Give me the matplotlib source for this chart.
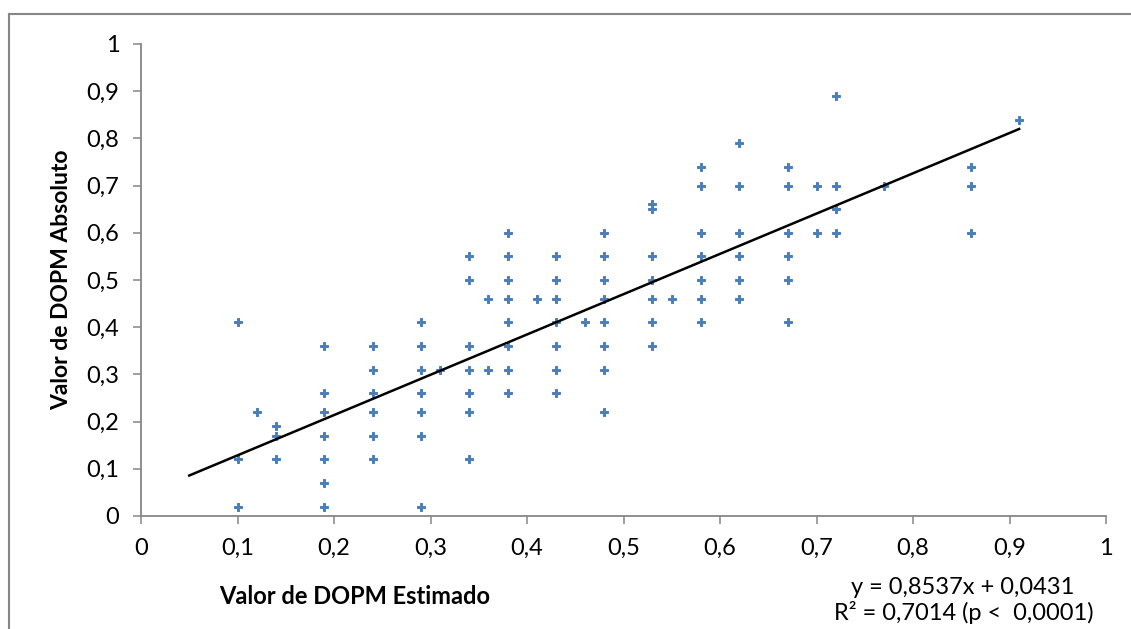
import matplotlib
matplotlib.use("Agg")
import matplotlib.pyplot as plt
from matplotlib.lines import Line2D
from matplotlib.ticker import FuncFormatter, MultipleLocator
import numpy as np

# Data (estimated vs absolute DOPM)
x_est = [0.10, 0.10, 0.10,
         0.12,
         0.14, 0.14, 0.14,
         0.19, 0.19, 0.19, 0.19, 0.19, 0.19, 0.19,
         0.24, 0.24, 0.24, 0.24, 0.24, 0.24,
         0.29, 0.29, 0.29, 0.29, 0.29, 0.29, 0.29,
         0.31,
         0.34, 0.34, 0.34, 0.34, 0.34, 0.34, 0.34,
         0.36, 0.36,
         0.38, 0.38, 0.38, 0.38, 0.38, 0.38, 0.38, 0.38,
         0.41,
         0.43, 0.43, 0.43, 0.43, 0.43, 0.43, 0.43,
         0.46,
         0.48, 0.48, 0.48, 0.48, 0.48, 0.48, 0.48, 0.48,
         0.53, 0.53, 0.53, 0.53, 0.53, 0.53, 0.53,
         0.55,
         0.58, 0.58, 0.58, 0.58, 0.58, 0.58, 0.58,
         0.62, 0.62, 0.62, 0.62, 0.62, 0.62,
         0.67, 0.67, 0.67, 0.67, 0.67, 0.67,
         0.70, 0.70,
         0.72, 0.72, 0.72, 0.72,
         0.77,
         0.86, 0.86, 0.86,
         0.91]
y_abs = [0.41, 0.12, 0.02,
         0.22,
         0.19, 0.17, 0.12,
         0.36, 0.26, 0.22, 0.17, 0.12, 0.07, 0.02,
         0.36, 0.31, 0.26, 0.22, 0.17, 0.12,
         0.41, 0.36, 0.31, 0.26, 0.22, 0.17, 0.02,
         0.31,
         0.55, 0.50, 0.36, 0.31, 0.26, 0.22, 0.12,
         0.46, 0.31,
         0.60, 0.55, 0.50, 0.46, 0.41, 0.36, 0.31, 0.26,
         0.46,
         0.55, 0.50, 0.46, 0.41, 0.36, 0.31, 0.26,
         0.41,
         0.60, 0.55, 0.50, 0.46, 0.41, 0.36, 0.31, 0.22,
         0.66, 0.65, 0.55, 0.50, 0.46, 0.41, 0.36,
         0.46,
         0.74, 0.70, 0.60, 0.55, 0.50, 0.46, 0.41,
         0.79, 0.70, 0.60, 0.55, 0.50, 0.46,
         0.74, 0.70, 0.60, 0.55, 0.50, 0.41,
         0.70, 0.60,
         0.89, 0.70, 0.65, 0.60,
         0.70,
         0.74, 0.70, 0.60,
         0.84]

# Trend line as reported on the chart
slope = 0.8537
intercept = 0.0431
trend_range = [0.05, 0.91]

eq_text = "y = 0,8537x + 0,0431"
r2_text = "R² = 0,7014 (p <  0,0001)"
x_label = "Valor de DOPM Estimado"
y_label = "Valor de DOPM Absoluto"

plt.rcParams['font.family'] = ['Lato', 'DejaVu Sans']
grey = '#868686'
fs = 17

fig = plt.figure(figsize=(11.31, 6.29), dpi=100)
W, H = 1131, 629
ax = fig.add_axes([141 / W, 1 - 516 / H, (1106 - 141) / W, (516 - 44) / H])

# Scatter points
ax.plot(x_est, y_abs, linestyle='none', marker='P', markersize=5.5,
        color='#4A7EBB', markeredgecolor='#4A7EBB', markeredgewidth=0.7)

# Linear trend line
tx = np.array(trend_range)
ax.plot(tx, slope * tx + intercept, color='black', linewidth=1.8)

ax.set_xlim(0, 1)
ax.set_ylim(0, 1)
ax.xaxis.set_major_locator(MultipleLocator(0.1))
ax.yaxis.set_major_locator(MultipleLocator(0.1))
fmt = FuncFormatter(lambda v, p: f"{round(v, 1):g}".replace('.', ','))
ax.xaxis.set_major_formatter(fmt)
ax.yaxis.set_major_formatter(fmt)

for side in ['top', 'right']:
    ax.spines[side].set_visible(False)
for side in ['left', 'bottom']:
    ax.spines[side].set_color(grey)
    ax.spines[side].set_linewidth(1.3)
ax.tick_params(axis='both', direction='out', length=5.5, width=1.1,
               color=grey, labelsize=fs, labelcolor='black')
ax.tick_params(axis='y', pad=10)
ax.tick_params(axis='x', pad=10)

ax.set_ylabel(y_label, fontsize=16.5, fontweight='bold')
ax.yaxis.set_label_coords((72 - 141) / 965, 0.5)
fig.text(355 / W, 1 - 596 / H, x_label, fontsize=fs, fontweight='bold',
         ha='center', va='center')

fig.text(963 / W, 1 - 587 / H, eq_text, fontsize=fs, ha='center', va='center')
fig.text(964 / W, 1 - 613 / H, r2_text, fontsize=fs, ha='center', va='center')

# Outer chart border (left and top visible)
fig.add_artist(Line2D([8.5 / W, 8.5 / W], [0, 1 - 14 / H], color=grey,
                      linewidth=1.5, transform=fig.transFigure))
fig.add_artist(Line2D([8.5 / W, 1], [1 - 14 / H, 1 - 14 / H], color=grey,
                      linewidth=1.5, transform=fig.transFigure))

fig.savefig("out.png", dpi=100)
